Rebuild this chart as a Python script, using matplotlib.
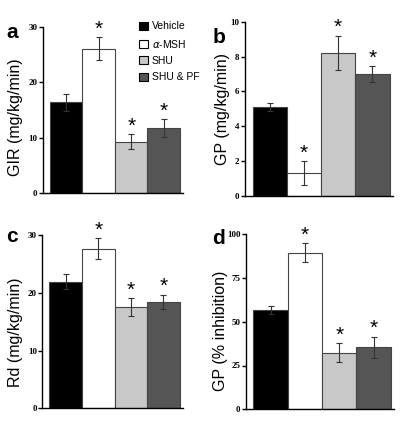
import matplotlib
matplotlib.use("Agg")
import matplotlib.pyplot as plt
from matplotlib.patches import Patch

groups = ["Vehicle", r"$\alpha$-MSH", "SHU", "SHU & PF"]
colors = ["#000000", "#ffffff", "#c8c8c8", "#555555"]

# panel data: values, errors, significance
gir = [16.4, 26.1, 9.3, 11.7]
gir_err = [1.5, 2.1, 1.3, 1.6]
gp = [5.1, 1.3, 8.2, 7.0]
gp_err = [0.25, 0.7, 1.0, 0.45]
rd = [22.0, 27.7, 17.6, 18.5]
rd_err = [1.3, 1.8, 1.5, 1.2]
gp_inh = [56.7, 89.5, 32.3, 35.3]
gp_inh_err = [2.3, 5.3, 5.5, 6.2]
signif = [False, True, True, True]

panels = [
    ("a", gir, gir_err, "GIR (mg/kg/min)", 30, [0, 10, 20, 30], [0.104, 0.546, 0.340, 0.390], (-0.145, 0.46)),
    ("b", gp, gp_err, "GP (mg/kg/min)", 10, [0, 2, 4, 6, 8, 10], [0.595, 0.539, 0.358, 0.410], (-0.105, 0.50)),
    ("c", rd, rd_err, "Rd (mg/kg/min)", 30, [0, 10, 20, 30], [0.103, 0.039, 0.340, 0.407], (-0.14, 0.44)),
    ("d", gp_inh, gp_inh_err, "GP (% inhibition)", 100, [0, 25, 50, 75, 100], [0.597, 0.037, 0.359, 0.412], (-0.12, 0.45)),
]
label_pos = {"a": (0.015, 0.945), "b": (0.515, 0.935), "c": (0.015, 0.465), "d": (0.515, 0.462)}

fig = plt.figure(figsize=(4.12, 4.25), dpi=100)
x = range(len(groups))

for name, vals, errs, ylab, ymax, ticks, rect, lab_xy in panels:
    ax = fig.add_axes(rect)
    ax.bar(x, vals, width=1.0, color=colors, edgecolor="#444444", linewidth=0.8, zorder=2)
    for i, (v, e) in enumerate(zip(vals, errs)):
        ax.errorbar(i, v, yerr=e, fmt="none", ecolor="#333333", elinewidth=0.8,
                    capsize=2, capthick=0.8, zorder=3)
        if signif[i]:
            ax.annotate("*", (i, v + e), xytext=(0, -1), textcoords="offset points",
                        ha="center", va="bottom", fontsize=15, family="Liberation Sans")
    ax.set_xlim(-0.715, 3.59)
    ax.set_ylim(0, ymax)
    ax.set_yticks(ticks)
    ax.set_xticks([])
    for s in ["top", "right"]:
        ax.spines[s].set_visible(False)
    for s in ["left", "bottom"]:
        ax.spines[s].set_linewidth(1.0)
    ax.tick_params(axis="y", length=3, width=1.0, pad=1)
    for t in ax.get_yticklabels():
        t.set_family("Liberation Serif")
        t.set_fontweight("bold")
        t.set_fontsize(6.5)
    ax.set_ylabel(ylab, fontsize=11.5, family="Liberation Sans")
    ax.yaxis.set_label_coords(*lab_xy)
    fig.text(*label_pos[name], name, fontsize=15, fontweight="bold",
             family="Liberation Sans", ha="left", va="top")

    if name == "a":
        handles = [Patch(facecolor=c, edgecolor="#000000", linewidth=0.8) for c in colors]
        ax.legend(handles, groups, loc="upper left", bbox_to_anchor=(0.66, 1.06),
                  frameon=False, handlelength=0.8, handleheight=0.8, handletextpad=0.4,
                  labelspacing=0.6, borderaxespad=0, prop={"family": "Liberation Sans", "size": 7.5})

fig.savefig("out.png", dpi=100)
